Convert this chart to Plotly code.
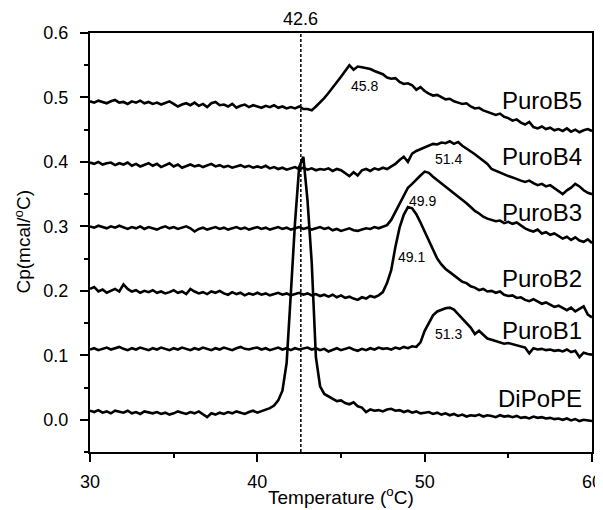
import plotly.graph_objects as go

# ----------------------------------------------
# DSC thermograms
# ----------------------------------------------

# temperature grid, every 0.25 oC from 30 to 60
temps = [30 + 0.25 * i for i in range(121)]

dipope = [
    0.014, 0.012, 0.015, 0.011, 0.013, 0.010, 0.014, 0.012,
    0.011, 0.014, 0.010, 0.012, 0.009, 0.013, 0.011, 0.010,
    0.012, 0.009, 0.011, 0.008, 0.010, 0.013, 0.011, 0.009,
    0.012, 0.010, 0.013, 0.009, 0.004, 0.010, 0.008, 0.011,
    0.009, 0.012, 0.010, 0.013, 0.011, 0.009, 0.012, 0.014,
    0.011, 0.013, 0.016, 0.018, 0.022, 0.030, 0.045, 0.088,
    0.195, 0.305, 0.392, 0.408, 0.340, 0.244, 0.097, 0.052,
    0.040, 0.036, 0.032, 0.029, 0.030, 0.026, 0.024, 0.027,
    0.021, 0.019, 0.012, 0.016, 0.014, 0.015, 0.013, 0.016,
    0.017, 0.014, 0.015, 0.012, 0.014, 0.011, 0.013, 0.010,
    0.011, 0.012, 0.009, 0.011, 0.008, 0.010, 0.007, 0.009,
    0.006, 0.008, 0.005, 0.007, 0.006, 0.008, 0.005, 0.007,
    0.006, 0.004, 0.007, 0.005, 0.006, 0.004, 0.006, 0.003,
    0.004, 0.002, 0.005, 0.003, 0.004, 0.002, 0.003, 0.001,
    0.002, 0.000, 0.002, -0.001, 0.001, -0.002, 0.000, -0.001,
    -0.002]

purob1 = [
    0.109, 0.111, 0.108, 0.110, 0.112, 0.109, 0.111, 0.113,
    0.110, 0.108, 0.111, 0.109, 0.112, 0.110, 0.108, 0.111,
    0.109, 0.112, 0.110, 0.108, 0.111, 0.109, 0.112, 0.110,
    0.108, 0.111, 0.109, 0.112, 0.110, 0.108, 0.111, 0.109,
    0.112, 0.110, 0.108, 0.111, 0.113, 0.110, 0.109, 0.111,
    0.112, 0.109, 0.111, 0.108, 0.110, 0.112, 0.109, 0.111,
    0.108, 0.111, 0.109, 0.110, 0.112, 0.109, 0.111, 0.108,
    0.110, 0.106, 0.109, 0.111, 0.108, 0.110, 0.112, 0.109,
    0.107, 0.110, 0.108, 0.111, 0.109, 0.112, 0.110, 0.111,
    0.109, 0.112, 0.110, 0.113, 0.111, 0.114, 0.113, 0.120,
    0.138, 0.150, 0.162, 0.168, 0.171, 0.173, 0.174, 0.171,
    0.164, 0.157, 0.150, 0.143, 0.133, 0.138, 0.132, 0.126,
    0.124, 0.122, 0.120, 0.118, 0.119, 0.117, 0.115, 0.113,
    0.112, 0.103, 0.111, 0.109, 0.110, 0.108, 0.109, 0.107,
    0.108, 0.106, 0.109, 0.105, 0.107, 0.097, 0.104, 0.102,
    0.101]

purob2 = [
    0.203, 0.206, 0.199, 0.202, 0.197, 0.200, 0.203, 0.199,
    0.210, 0.203, 0.199, 0.201, 0.197, 0.200, 0.198, 0.201,
    0.197, 0.199, 0.196, 0.198, 0.201, 0.197, 0.199, 0.195,
    0.203, 0.199, 0.196, 0.198, 0.195, 0.199, 0.197, 0.200,
    0.196, 0.194, 0.198, 0.195, 0.197, 0.193, 0.196, 0.194,
    0.197, 0.194, 0.196, 0.193, 0.195, 0.197, 0.194, 0.196,
    0.193, 0.195, 0.197, 0.194, 0.196, 0.193, 0.195, 0.192,
    0.194, 0.191, 0.194, 0.190, 0.193, 0.189, 0.191, 0.188,
    0.186, 0.190, 0.188, 0.192, 0.190, 0.193, 0.198, 0.212,
    0.232, 0.268, 0.298, 0.318, 0.330, 0.328, 0.319, 0.306,
    0.292, 0.278, 0.262, 0.250, 0.241, 0.234, 0.229, 0.224,
    0.218, 0.214, 0.212, 0.207, 0.205, 0.201, 0.203, 0.199,
    0.200, 0.197, 0.199, 0.194, 0.192, 0.193, 0.189, 0.190,
    0.186, 0.184, 0.187, 0.183, 0.180, 0.182, 0.178, 0.175,
    0.177, 0.173, 0.170, 0.174, 0.168, 0.172, 0.176, 0.163,
    0.159]

purob3 = [
    0.300, 0.298, 0.301, 0.299, 0.297, 0.300, 0.298, 0.301,
    0.298, 0.296, 0.299, 0.297, 0.300, 0.296, 0.299, 0.297,
    0.295, 0.298, 0.300, 0.297, 0.299, 0.296, 0.298, 0.300,
    0.297, 0.292, 0.296, 0.298, 0.295, 0.297, 0.299, 0.296,
    0.298, 0.295, 0.297, 0.299, 0.296, 0.298, 0.295, 0.297,
    0.299, 0.296, 0.298, 0.295, 0.297, 0.299, 0.296, 0.298,
    0.295, 0.297, 0.299, 0.296, 0.298, 0.295, 0.297, 0.299,
    0.296, 0.298, 0.294, 0.296, 0.293, 0.295, 0.297, 0.294,
    0.293, 0.295, 0.297, 0.296, 0.299, 0.297, 0.300, 0.302,
    0.310, 0.322, 0.336, 0.348, 0.360, 0.366, 0.373, 0.379,
    0.385, 0.383, 0.377, 0.372, 0.367, 0.361, 0.356, 0.351,
    0.346, 0.341, 0.336, 0.330, 0.324, 0.320, 0.315, 0.312,
    0.310, 0.308, 0.309, 0.305, 0.307, 0.304, 0.306, 0.301,
    0.297, 0.294, 0.292, 0.295, 0.289, 0.291, 0.287, 0.289,
    0.285, 0.281, 0.284, 0.279, 0.283, 0.278, 0.276, 0.280,
    0.274]

purob4 = [
    0.399, 0.397, 0.400, 0.396, 0.398, 0.399, 0.395, 0.398,
    0.396, 0.399, 0.394, 0.397, 0.393, 0.396, 0.398, 0.394,
    0.397, 0.392, 0.395, 0.398, 0.393, 0.396, 0.391, 0.394,
    0.396, 0.393, 0.395, 0.392, 0.394, 0.397, 0.393, 0.395,
    0.392, 0.394, 0.391, 0.393, 0.395, 0.392, 0.394, 0.391,
    0.393, 0.391, 0.394, 0.390, 0.392, 0.389, 0.391, 0.388,
    0.390, 0.392, 0.389, 0.391, 0.388, 0.390, 0.387, 0.389,
    0.388, 0.390, 0.386, 0.389, 0.387, 0.383, 0.378, 0.384,
    0.379, 0.387, 0.389, 0.386, 0.390, 0.388, 0.391, 0.389,
    0.393, 0.397, 0.403, 0.408, 0.400, 0.413, 0.417, 0.420,
    0.422, 0.426, 0.428, 0.427, 0.430, 0.429, 0.432, 0.428,
    0.431, 0.425, 0.421, 0.417, 0.412, 0.407, 0.402, 0.397,
    0.389, 0.386, 0.383, 0.380, 0.378, 0.376, 0.373, 0.371,
    0.369, 0.371, 0.367, 0.364, 0.366, 0.362, 0.364, 0.359,
    0.355, 0.350, 0.356, 0.360, 0.366, 0.362, 0.356, 0.352,
    0.350]

purob5 = [
    0.494, 0.492, 0.495, 0.493, 0.491, 0.494, 0.496, 0.492,
    0.493, 0.490, 0.494, 0.492, 0.495, 0.491, 0.493, 0.490,
    0.492, 0.489, 0.491, 0.494, 0.490, 0.486, 0.489, 0.491,
    0.488, 0.492, 0.487, 0.490, 0.485, 0.491, 0.493, 0.488,
    0.489, 0.486, 0.490, 0.484, 0.487, 0.489, 0.485, 0.488,
    0.486, 0.484, 0.487, 0.485, 0.488, 0.484, 0.486, 0.483,
    0.485, 0.483, 0.486, 0.482, 0.482, 0.480, 0.486, 0.492,
    0.499, 0.507, 0.515, 0.524, 0.532, 0.541, 0.550, 0.543,
    0.548, 0.547, 0.546, 0.544, 0.541, 0.538, 0.536, 0.531,
    0.529, 0.530, 0.524, 0.521, 0.522, 0.519, 0.512, 0.516,
    0.510, 0.506, 0.503, 0.504, 0.500, 0.497, 0.498, 0.494,
    0.492, 0.490, 0.491, 0.486, 0.483, 0.484, 0.480, 0.478,
    0.476, 0.473, 0.475, 0.470, 0.468, 0.464, 0.466, 0.461,
    0.458, 0.462, 0.454, 0.452, 0.455, 0.451, 0.453, 0.449,
    0.451, 0.448, 0.452, 0.447, 0.450, 0.446, 0.449, 0.451,
    0.448]

series_names = ["DiPoPE", "PuroB1", "PuroB2", "PuroB3", "PuroB4", "PuroB5"]
series_vals = [dipope, purob1, purob2, purob3, purob4, purob5]
name_label_y = [0.033, 0.138, 0.219, 0.322, 0.409, 0.495]

# peak temperatures written next to each curve
peak_text = ["45.8", "51.4", "49.9", "49.1", "51.3"]
peak_x = [46.4, 51.4, 49.9, 49.2, 51.4]
peak_y = [0.518, 0.405, 0.340, 0.252, 0.133]

main_tm = 42.6

FONT = "Liberation Sans, Arial, Helvetica, sans-serif"

fig = go.Figure()

for name, vals in zip(series_names, series_vals):
    fig.add_trace(go.Scatter(
        x=temps, y=vals, mode="lines", name=name,
        line=dict(color="black", width=2.6),
        showlegend=False))

# dashed line at the DiPoPE transition
fig.add_shape(type="line", xref="x", yref="paper",
              x0=main_tm, x1=main_tm, y0=0, y1=1,
              line=dict(color="black", width=1.5, dash="3px,2px"))

fig.add_annotation(x=main_tm, y=1, xref="x", yref="paper",
                   text=str(main_tm), showarrow=False,
                   yanchor="bottom", yshift=2,
                   font=dict(size=18, color="black", family=FONT))

for name, ly in zip(series_names, name_label_y):
    fig.add_annotation(x=59.55, y=ly, xref="x", yref="y", text=name,
                       showarrow=False, xanchor="right", yanchor="middle",
                       font=dict(size=24, color="black", family=FONT))

for t, px, py in zip(peak_text, peak_x, peak_y):
    fig.add_annotation(x=px, y=py, xref="x", yref="y", text=t,
                       showarrow=False, xanchor="center", yanchor="middle",
                       font=dict(size=14, color="black", family=FONT))

# axis titles placed by hand so the plot box stays where it is
fig.add_annotation(x=0.5, y=0, xref="paper", yref="paper",
                   text="Temperature (<sup>o</sup>C)", showarrow=False,
                   xanchor="center", yanchor="middle", yshift=-44,
                   font=dict(size=19, color="black", family=FONT))
fig.add_annotation(x=0, y=0.5, xref="paper", yref="paper",
                   text="Cp(mcal/<sup>o</sup>C)", showarrow=False,
                   textangle=-90, xanchor="center", yanchor="middle",
                   xshift=-68,
                   font=dict(size=19, color="black", family=FONT))

# page body has an 8px margin, so the figure is 8px smaller each way
fig.update_layout(
    width=595, height=502,
    margin=dict(l=82, r=11, t=25, b=58, autoexpand=False),
    paper_bgcolor="white", plot_bgcolor="white",
    font=dict(family=FONT, color="black", size=18),
    xaxis=dict(
        range=[30, 60], tick0=30, dtick=10, automargin=False,
        ticks="outside", ticklen=8, tickwidth=1.6, tickcolor="black",
        minor=dict(dtick=5, ticks="outside", ticklen=4, tickwidth=1.6,
                   tickcolor="black"),
        showline=True, linecolor="black", linewidth=2, mirror=True,
        showgrid=False, zeroline=False,
        ticklabelstandoff=4,
        tickfont=dict(size=18),
    ),
    yaxis=dict(
        range=[-0.05, 0.6], tick0=0, dtick=0.1, tickformat=".1f",
        automargin=False,
        ticks="outside", ticklen=8, tickwidth=1.6, tickcolor="black",
        minor=dict(dtick=0.05, ticks="outside", ticklen=4, tickwidth=1.6,
                   tickcolor="black"),
        showline=True, linecolor="black", linewidth=2, mirror=True,
        showgrid=False, zeroline=False,
        ticklabelstandoff=8,
        tickfont=dict(size=18),
    ),
)

fig.write_html("out.html")
